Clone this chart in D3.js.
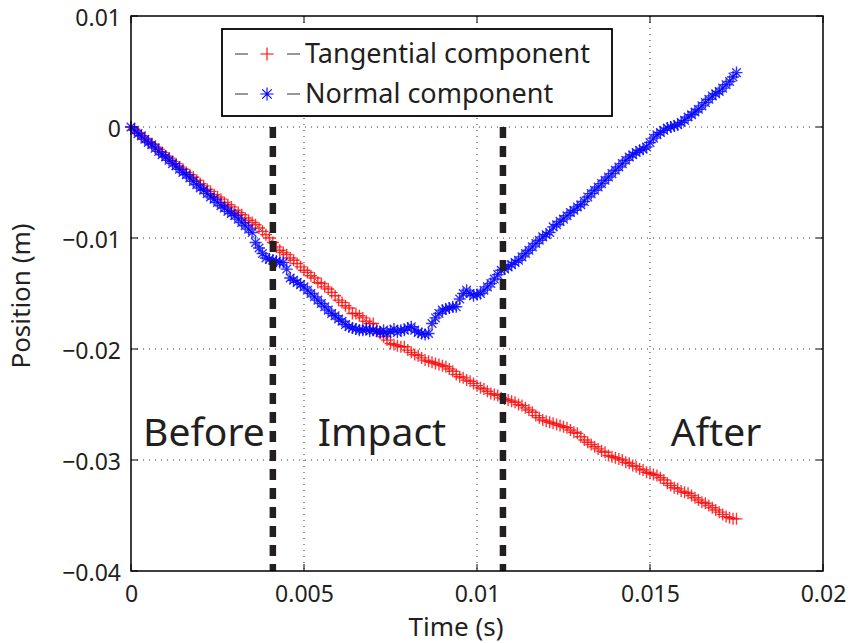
<!DOCTYPE html>
<html>
<head>
<meta charset="utf-8">
<script src="https://cdn.jsdelivr.net/npm/d3@7"></script>
<style>
  body { margin: 0; background: #fff; }
  svg text { font-family: "Noto Sans", sans-serif; fill: #231f20; }
</style>
</head>
<body>
<svg id="chart" width="849" height="643"></svg>
<script>
// sample step of the recording, in seconds
var dt = 0.0001;

// tangential component, mm, one value per sample (0 .. 17.5 ms)
var tangentialMm = [
  0.0, -0.2, -0.5, -0.8, -1.0, -1.3, -1.5, -1.8, -2.0, -2.3,
  -2.6, -2.8, -3.1, -3.3, -3.6, -3.8, -4.1, -4.3, -4.5, -4.8,
  -5.1, -5.3, -5.6, -5.8, -6.1, -6.3, -6.5, -6.8, -7.0, -7.2,
  -7.5, -7.7, -7.9, -8.2, -8.4, -8.6, -8.8, -9.1, -9.4, -9.7,
  -10.0, -10.4, -10.8, -11.1, -11.3, -11.5, -11.8, -12.0, -12.3, -12.6,
  -12.9, -13.1, -13.4, -13.6, -14.0, -14.1, -14.4, -14.6, -14.9, -15.2,
  -15.6, -15.8, -16.1, -16.3, -16.8, -16.8, -17.0, -17.2, -17.5, -17.7,
  -17.7, -18.2, -18.6, -18.9, -19.2, -19.5, -19.6, -19.7, -19.8, -19.8,
  -20.1, -20.3, -20.5, -20.6, -20.8, -21.0, -21.1, -21.2, -21.3, -21.4,
  -21.5, -21.6, -21.8, -22.0, -22.3, -22.5, -22.6, -22.8, -22.9, -23.1,
  -23.3, -23.5, -23.6, -23.8, -24.0, -24.1, -24.2, -24.4, -24.5, -24.6,
  -24.7, -24.8, -25.0, -25.1, -25.3, -25.5, -25.7, -26.0, -26.2, -26.4,
  -26.5, -26.6, -26.7, -26.8, -26.9, -27.0, -27.1, -27.3, -27.5, -27.6,
  -27.9, -28.2, -28.4, -28.6, -28.8, -29.0, -29.2, -29.3, -29.6, -29.7,
  -29.8, -29.9, -30.0, -30.2, -30.3, -30.5, -30.6, -30.8, -30.9, -31.1,
  -31.2, -31.3, -31.4, -31.6, -31.8, -32.1, -32.3, -32.5, -32.6, -32.8,
  -32.9, -33.0, -33.2, -33.4, -33.6, -33.8, -33.9, -34.1, -34.3, -34.5,
  -34.7, -34.9, -35.1, -35.2, -35.3, -35.3
];

// normal component, mm
var normalMm = [
  0.0, -0.3, -0.6, -0.8, -1.1, -1.4, -1.6, -1.9, -2.2, -2.5,
  -2.7, -3.0, -3.3, -3.5, -3.8, -4.1, -4.3, -4.6, -4.9, -5.2,
  -5.5, -5.7, -6.0, -6.3, -6.5, -6.8, -7.1, -7.3, -7.6, -7.8,
  -8.0, -8.3, -8.6, -8.9, -9.2, -9.5, -10.4, -10.9, -11.4, -11.8,
  -11.9, -12.0, -12.1, -12.2, -12.2, -12.8, -13.6, -13.8, -14.0, -14.2,
  -14.4, -14.7, -15.0, -15.3, -15.6, -15.9, -16.2, -16.5, -16.8, -17.0,
  -17.3, -17.5, -17.8, -18.0, -18.1, -18.2, -18.3, -18.3, -18.2, -18.4,
  -18.3, -18.4, -18.5, -18.3, -18.6, -18.4, -18.2, -18.5, -18.3, -18.3,
  -18.1, -18.0, -18.3, -18.5, -18.6, -18.7, -18.6, -17.7, -17.2, -16.8,
  -16.5, -16.4, -16.3, -16.2, -16.2, -15.5, -15.0, -14.7, -15.0, -15.2,
  -15.1, -15.0, -14.7, -14.4, -14.1, -13.7, -13.3, -12.9, -12.8, -12.6,
  -12.4, -12.2, -12.0, -11.7, -11.4, -11.1, -10.8, -10.5, -10.2, -9.9,
  -9.7, -9.5, -9.0, -8.8, -8.5, -8.3, -8.0, -7.7, -7.5, -7.2,
  -7.0, -6.7, -6.3, -6.0, -5.7, -5.4, -5.1, -4.8, -4.5, -4.2,
  -3.9, -3.6, -3.3, -3.0, -2.7, -2.5, -2.3, -2.1, -2.0, -1.8,
  -1.4, -1.0, -0.7, -0.5, -0.3, -0.1, 0.0, 0.1, 0.2, 0.4,
  0.6, 0.9, 1.1, 1.35, 1.6, 1.9, 2.2, 2.5, 2.8, 3.0,
  3.2, 3.5, 3.8, 4.1, 4.5, 4.9
];

var xTicks = [0, 0.005, 0.01, 0.015, 0.02];
var xTickLabels = ["0", "0.005", "0.01", "0.015", "0.02"];
var yTicks = [0.01, 0, -0.01, -0.02, -0.03, -0.04];
var yTickLabels = ["0.01", "0", "\u22120.01", "\u22120.02", "\u22120.03", "\u22120.04"];

// phase boundaries (s) and phase names
var boundaries = [0.0041, 0.01075];
var phaseNames = ["Before", "Impact", "After"];
var phaseAt = [0.00035, 0.0054, 0.0156];

var seriesNames = ["Tangential component", "Normal component"];

var svg = d3.select("#chart");
var L = 131, R = 823, T = 16, B = 571;

var x = d3.scaleLinear().domain([0, 0.02]).range([L, R]);
var y = d3.scaleLinear().domain([-0.04, 0.01]).range([B, T]);

// grid (dotted)
var grid = svg.append("g");
grid.selectAll(".gx").data(xTicks.slice(1, -1)).enter().append("line")
  .attr("x1", d => x(d)).attr("x2", d => x(d))
  .attr("y1", T).attr("y2", B)
  .attr("stroke", "#333").attr("stroke-width", 1).attr("stroke-dasharray", "1,5");
grid.selectAll(".gy").data(yTicks.slice(1, -1)).enter().append("line")
  .attr("x1", L).attr("x2", R)
  .attr("y1", d => y(d)).attr("y2", d => y(d))
  .attr("stroke", "#333").attr("stroke-width", 1).attr("stroke-dasharray", "1,5");

// axes
var xAxis = d3.axisBottom(x).tickValues(xTicks).tickSize(0).tickPadding(15)
  .tickFormat((d, i) => xTickLabels[i]);
var gx = svg.append("g").attr("transform", "translate(0," + B + ")").call(xAxis);
gx.select(".domain").remove();
gx.selectAll("text").attr("font-size", 23).attr("font-family", "Noto Sans").attr("fill", "#231f20");

var yAxis = d3.axisLeft(y).tickValues(yTicks).tickSize(0).tickPadding(10)
  .tickFormat((d, i) => yTickLabels[i]);
var gy = svg.append("g").attr("transform", "translate(" + L + ",2)").call(yAxis);
gy.select(".domain").remove();
gy.selectAll("text").attr("font-size", 23).attr("font-family", "Noto Sans").attr("fill", "#231f20");

// inner tick marks
var tk = svg.append("g").attr("stroke", "#000").attr("stroke-width", 1);
xTicks.forEach(function(d) {
  tk.append("line").attr("x1", x(d)).attr("x2", x(d)).attr("y1", B).attr("y2", B - 7);
  tk.append("line").attr("x1", x(d)).attr("x2", x(d)).attr("y1", T).attr("y2", T + 7);
});
yTicks.forEach(function(d) {
  tk.append("line").attr("x1", L).attr("x2", L + 7).attr("y1", y(d)).attr("y2", y(d));
  tk.append("line").attr("x1", R).attr("x2", R - 7).attr("y1", y(d)).attr("y2", y(d));
});

var plusPath = "M-6,0H6M0,-6V6";
var starPath = "M-6,0H6M0,-6V6M-4.3,-4.3L4.3,4.3M-4.3,4.3L4.3,-4.3";

function drawSeries(vals, color, path) {
  var pts = vals.map((v, i) => ({ t: i * dt, v: v / 1000 }));
  var g = svg.append("g");
  g.append("path").datum(pts)
    .attr("d", d3.line().x(d => x(d.t)).y(d => y(d.v)))
    .attr("fill", "none").attr("stroke", "#000").attr("stroke-width", 0.6)
    .attr("stroke-dasharray", "3,2");
  g.selectAll("path.m").data(pts).enter().append("path")
    .attr("class", "m")
    .attr("transform", d => "translate(" + x(d.t) + "," + y(d.v) + ")")
    .attr("d", path)
    .attr("stroke", color).attr("stroke-width", 1.4).attr("stroke-opacity", 0.8)
    .attr("fill", "none");
}
drawSeries(tangentialMm, "#ff0000", plusPath);
drawSeries(normalMm, "#0000ff", starPath);

// phase boundaries
svg.selectAll(".bound").data(boundaries).enter().append("line")
  .attr("x1", d => x(d)).attr("x2", d => x(d))
  .attr("y1", y(0)).attr("y2", B)
  .attr("stroke", "#231f20").attr("stroke-width", 6.5)
  .attr("stroke-dasharray", "11,8");

// phase names
svg.selectAll(".phase").data(phaseNames).enter().append("text")
  .attr("x", (d, i) => x(phaseAt[i])).attr("y", 446)
  .attr("font-size", 39).attr("fill", "#000")
  .text(d => d);

// frame
svg.append("rect").attr("x", L).attr("y", T).attr("width", R - L).attr("height", B - T)
  .attr("fill", "none").attr("stroke", "#000").attr("stroke-width", 1.5);

// axis titles
svg.append("text").attr("x", 456).attr("y", 636).attr("text-anchor", "middle")
  .attr("font-size", 26).text("Time (s)");
svg.append("text").attr("transform", "translate(30," + 296 + ") rotate(-90)")
  .attr("text-anchor", "middle").attr("font-size", 26).text("Position (m)");

// legend
var lg = svg.append("g");
lg.append("rect").attr("x", 222).attr("y", 29).attr("width", 390).attr("height", 87)
  .attr("fill", "#fff").attr("stroke", "#000").attr("stroke-width", 1.8);
var legColors = ["#ff0000", "#0000ff"];
var legPaths = [plusPath, starPath];
seriesNames.forEach(function(name, i) {
  var cy = 54 + i * 40;
  lg.append("line").attr("x1", 235).attr("x2", 248).attr("y1", cy).attr("y2", cy)
    .attr("stroke", "#333").attr("stroke-width", 1);
  lg.append("line").attr("x1", 287).attr("x2", 300).attr("y1", cy).attr("y2", cy)
    .attr("stroke", "#333").attr("stroke-width", 1);
  lg.append("path").attr("transform", "translate(267," + cy + ") scale(1.1)")
    .attr("d", legPaths[i]).attr("stroke", legColors[i]).attr("stroke-width", 1)
    .attr("fill", "none");
  lg.append("text").attr("x", 305).attr("y", cy + 9).attr("font-size", 27).text(name);
});
</script>
</body>
</html>
